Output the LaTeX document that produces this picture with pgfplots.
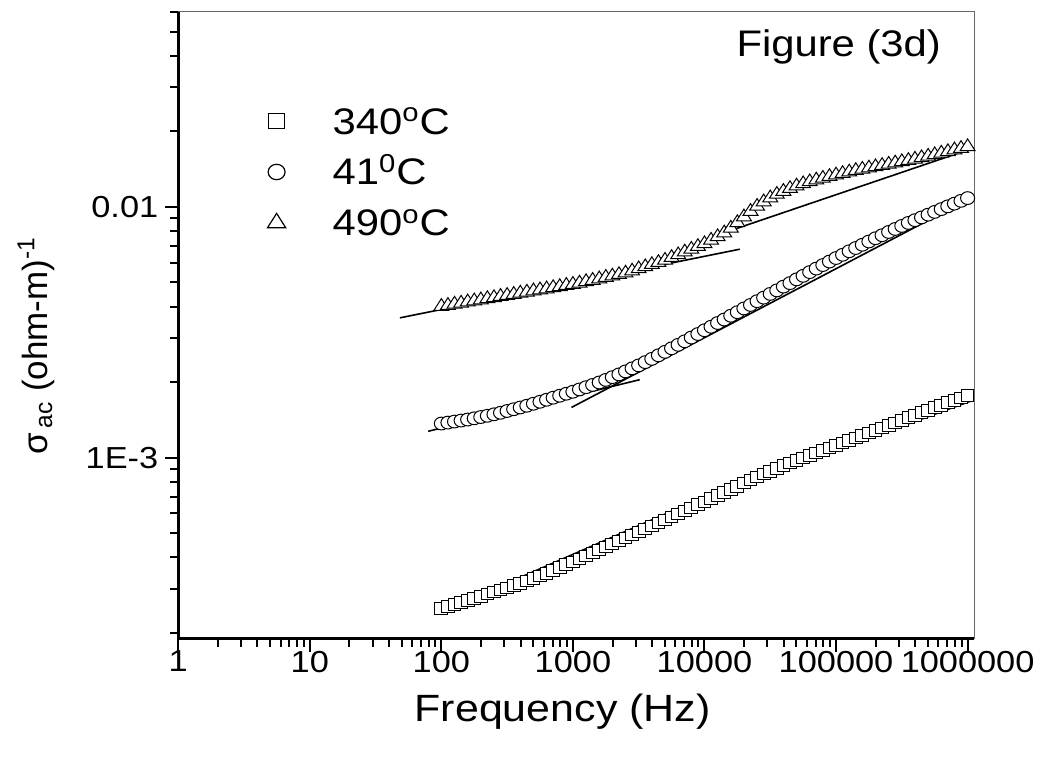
\documentclass[border=0pt]{standalone}
\usepackage{fontspec}
\setmainfont[FakeStretch=1.13]{Liberation Sans}
\newfontfamily\ylabfont{Liberation Sans}
\usepackage{pgfplots}
\usepackage{pgfplotstable}
\pgfplotsset{compat=1.18}

\pgfplotstableread{
f sq ci tr
100 2.500e-4 1.368e-3 4.009e-3
112.2 2.547e-4 1.380e-3 4.046e-3
125.9 2.594e-4 1.393e-3 4.093e-3
141.3 2.643e-4 1.406e-3 4.130e-3
158.5 2.698e-4 1.419e-3 4.178e-3
177.8 2.748e-4 1.435e-3 4.217e-3
199.5 2.799e-4 1.452e-3 4.256e-3
223.9 2.857e-4 1.469e-3 4.305e-3
251.2 2.911e-4 1.489e-3 4.345e-3
281.8 2.972e-4 1.510e-3 4.395e-3
316.2 3.027e-4 1.535e-3 4.436e-3
354.8 3.090e-4 1.560e-3 4.477e-3
398.1 3.155e-4 1.585e-3 4.529e-3
446.7 3.221e-4 1.611e-3 4.571e-3
501.2 3.296e-4 1.641e-3 4.624e-3
562.3 3.373e-4 1.671e-3 4.667e-3
631.0 3.459e-4 1.702e-3 4.710e-3
707.9 3.548e-4 1.734e-3 4.764e-3
794.3 3.639e-4 1.766e-3 4.808e-3
891.3 3.741e-4 1.799e-3 4.864e-3
1000 3.837e-4 1.832e-3 4.909e-3
1122 3.944e-4 1.871e-3 4.966e-3
1259 4.055e-4 1.910e-3 5.035e-3
1413 4.169e-4 1.950e-3 5.093e-3
1585 4.286e-4 1.995e-3 5.164e-3
1778 4.406e-4 2.042e-3 5.236e-3
1995 4.529e-4 2.094e-3 5.297e-3
2239 4.656e-4 2.148e-3 5.370e-3
2512 4.786e-4 2.208e-3 5.445e-3
2818 4.920e-4 2.270e-3 5.546e-3
3162 5.058e-4 2.333e-3 5.662e-3
3548 5.200e-4 2.404e-3 5.768e-3
3981 5.346e-4 2.477e-3 5.888e-3
4467 5.495e-4 2.559e-3 5.998e-3
5012 5.649e-4 2.642e-3 6.124e-3
5623 5.808e-4 2.729e-3 6.281e-3
6310 5.970e-4 2.818e-3 6.442e-3
7079 6.138e-4 2.911e-3 6.607e-3
7943 6.310e-4 3.013e-3 6.776e-3
8913 6.487e-4 3.112e-3 6.950e-3
10000 6.668e-4 3.221e-3 7.129e-3
11220 6.855e-4 3.327e-3 7.362e-3
12590 7.063e-4 3.443e-3 7.603e-3
14130 7.261e-4 3.556e-3 7.870e-3
15850 7.481e-4 3.681e-3 8.222e-3
17780 7.691e-4 3.802e-3 8.650e-3
19950 7.925e-4 3.936e-3 9.120e-3
22390 8.147e-4 4.064e-3 9.594e-3
25120 8.375e-4 4.207e-3 1.005e-2
28180 8.610e-4 4.345e-3 1.047e-2
31620 8.831e-4 4.498e-3 1.086e-2
35480 9.058e-4 4.645e-3 1.122e-2
39810 9.290e-4 4.808e-3 1.153e-2
44670 9.506e-4 4.966e-3 1.183e-2
50120 9.727e-4 5.140e-3 1.211e-2
56230 9.954e-4 5.309e-3 1.236e-2
63100 1.019e-3 5.495e-3 1.259e-2
70790 1.042e-3 5.675e-3 1.279e-2
79430 1.067e-3 5.861e-3 1.300e-2
89130 1.091e-3 6.053e-3 1.321e-2
100000 1.117e-3 6.252e-3 1.340e-2
112200 1.143e-3 6.442e-3 1.358e-2
125900 1.169e-3 6.653e-3 1.377e-2
141300 1.197e-3 6.855e-3 1.396e-2
158500 1.227e-3 7.063e-3 1.413e-2
177800 1.256e-3 7.278e-3 1.429e-2
199500 1.285e-3 7.499e-3 1.445e-2
223900 1.315e-3 7.709e-3 1.462e-2
251200 1.346e-3 7.943e-3 1.479e-2
281800 1.377e-3 8.166e-3 1.496e-2
316200 1.409e-3 8.395e-3 1.514e-2
354800 1.442e-3 8.630e-3 1.531e-2
398100 1.476e-3 8.851e-3 1.549e-2
446700 1.510e-3 9.078e-3 1.570e-2
501200 1.545e-3 9.311e-3 1.592e-2
562300 1.581e-3 9.550e-3 1.614e-2
631000 1.618e-3 9.795e-3 1.637e-2
707900 1.656e-3 1.005e-2 1.660e-2
794300 1.690e-3 1.030e-2 1.687e-2
891300 1.730e-3 1.057e-2 1.710e-2
1000000 1.766e-3 1.084e-2 1.738e-2
}\data

\begin{document}
\begin{tikzpicture}
\useasboundingbox (-89.15pt,-60.5pt) rectangle (433.5pt,319.5pt);
\begin{axis}[
  at={(0,0)}, anchor=south west,
  scale only axis, width=398pt, height=314pt,
  xmode=log, ymode=log,
  xmin=1, xmax=1.119e6, ymin=1.895e-4, ymax=0.0604,
  clip=false,
  axis lines=left,
  axis line style={-, line width=1.35pt, black},
  x axis line style={-}, y axis line style={-},
  tick align=outside,
  major tick length=6.5pt, minor tick length=4pt,
  every tick/.style={black, line width=1pt},
  xtick={1,10,100,1000,10000,100000,1000000},
  xticklabels={1,10,100,1000,10000,100000,1000000},
  minor xtick={2,3,4,5,6,7,8,9,20,30,40,50,60,70,80,90,200,300,400,500,600,700,800,900,2000,3000,4000,5000,6000,7000,8000,9000,20000,30000,40000,50000,60000,70000,80000,90000,200000,300000,400000,500000,600000,700000,800000,900000},
  ytick={0.001,0.01},
  yticklabels={1E-3,0.01},
  minor ytick={2e-4,3e-4,4e-4,5e-4,6e-4,7e-4,8e-4,9e-4,2e-3,3e-3,4e-3,5e-3,6e-3,7e-3,8e-3,9e-3,0.02,0.03,0.04,0.05,0.06},
  tick label style={font=\fontsize{15.2}{18}\selectfont},
  xticklabel style={yshift=4pt},
  xlabel={Frequency (Hz)},
  xlabel style={at={(axis description cs:0.483,-0.132)}, anchor=base, font=\fontsize{19}{22}\selectfont},
  ylabel={\ylabfont σ\textsubscript{\,ac} (ohm-m)\textsuperscript{-1}},
  ylabel style={at={(axis description cs:-0.1788,0.467)}, anchor=center, font=\fontsize{17.5}{20}\selectfont},
  legend image code/.code={\path[draw=none,fill=none] (0pt,0pt) -- (20pt,0pt); \draw[#1] plot coordinates {(10pt,0pt)};},
  legend cell align=left,
  legend style={draw=none, fill=none, inner sep=0pt, outer sep=0pt,
    at={(axis description cs:0.0985,0.8455)}, anchor=north west,
    font=\fontsize{18.5}{20}\selectfont, row sep=12.5pt,
    nodes={inner sep=0pt, text height=13pt, text depth=0pt},
    /tikz/every odd column/.style={column sep=18pt}},
]
\addlegendimage{only marks, mark=square*, mark size=3.75pt, mark options={fill=white, draw=black, line width=0.6pt, xscale=1.1}}
\addlegendentry{340\textsuperscript{o}C}
\addlegendimage{only marks, mark=*, mark size=3.85pt, mark options={fill=white, draw=black, line width=0.6pt, xscale=1.1}}
\addlegendentry{41\textsuperscript{0}C}
\addlegendimage{only marks, mark=triangle*, mark size=4.8pt, mark options={fill=white, draw=black, line width=0.6pt, xscale=1.1}}
\addlegendentry{490\textsuperscript{o}C}

\addplot[only marks, mark=square*, mark size=2.9pt, mark options={fill=white, draw=black, line width=0.5pt, xscale=1.1}, forget plot] table[x=f, y=sq]{\data};
\addplot[only marks, mark=*, mark size=3.2pt, mark options={fill=white, draw=black, line width=0.5pt, xscale=1.1}, forget plot] table[x=f, y=ci]{\data};
\addplot[only marks, mark=triangle*, mark size=3.9pt, mark options={fill=white, draw=black, line width=0.5pt, xscale=1.1}, forget plot] table[x=f, y=tr]{\data};

\addplot[black, line width=0.8pt, forget plot] coordinates {(118,2.52e-4) (29650,8.95e-4)};
\addplot[black, line width=0.8pt, forget plot] coordinates {(7730,6.56e-4) (1.119e6,1.70e-3)};
\addplot[black, line width=0.8pt, forget plot] coordinates {(79.4,1.274e-3) (3220,2.046e-3)};
\addplot[black, line width=0.8pt, forget plot] coordinates {(975,1.586e-3) (8.71e5,1.028e-2)};
\addplot[black, line width=0.8pt, forget plot] coordinates {(48.4,3.61e-3) (18540,6.78e-3)};
\addplot[black, line width=0.8pt, forget plot] coordinates {(11970,7.66e-3) (1.119e6,1.72e-2)};

\draw[gray!80!black, line width=0.5pt] (rel axis cs:0,1) -- (rel axis cs:1,1) -- (rel axis cs:1,0);
\node[font=\fontsize{18.5}{20}\selectfont, anchor=base] at (rel axis cs:0.83,0.927) {Figure (3d)};
\end{axis}
\end{tikzpicture}
\end{document}
